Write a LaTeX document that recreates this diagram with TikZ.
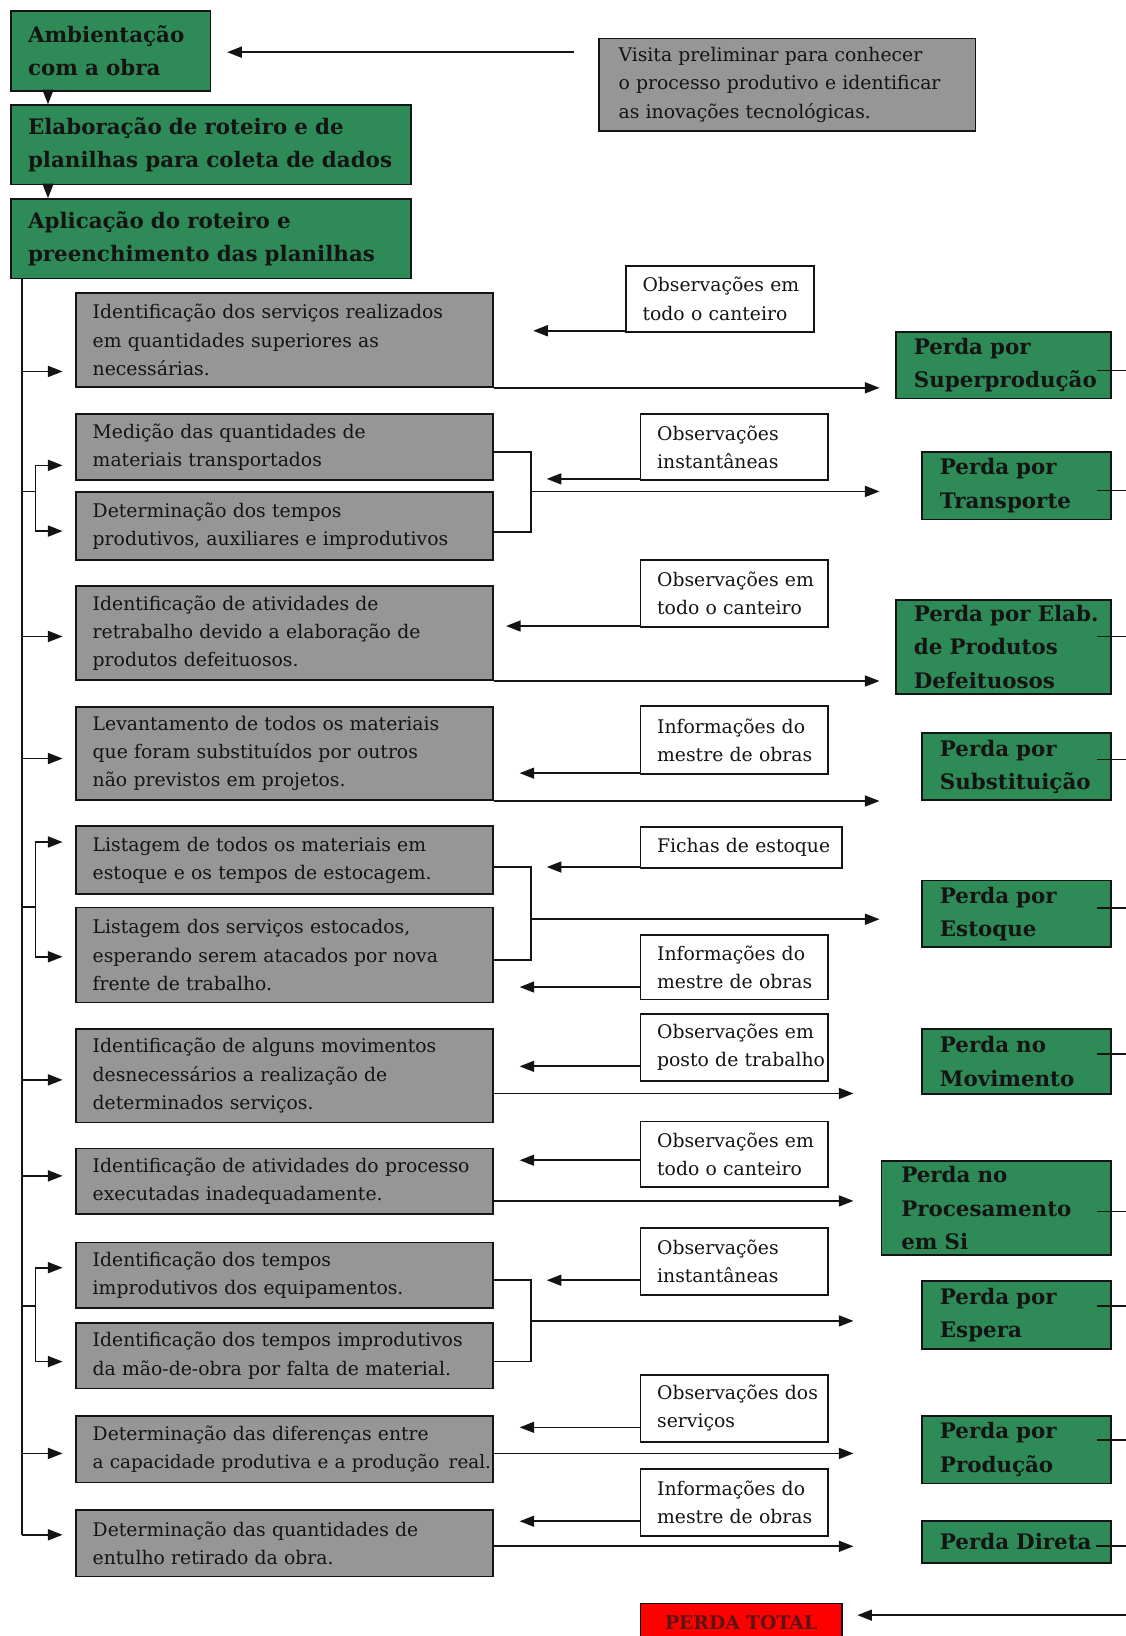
\documentclass[tikz,border=0pt]{standalone}
\usepackage{fontspec}
\setmainfont{DejaVu Serif}
\usetikzlibrary{arrows.meta}
\definecolor{boxgreen}{RGB}{46,139,87}
\definecolor{boxgray}{RGB}{150,150,150}
\definecolor{totalred}{RGB}{255,0,0}
\definecolor{totalink}{RGB}{90,20,20}
\definecolor{ink}{RGB}{20,20,20}
\begin{document}
\begin{tikzpicture}[x=1pt,y=-1pt,
  ln/.style={draw=ink,line width=1.6pt},
  arr/.style={ln,-{Triangle[length=14pt,width=10.5pt]}},
  base/.style={draw=ink,line width=1.7pt,anchor=north west,inner ysep=0pt,align=left},
  greenbox/.style={base,fill=boxgreen,text=ink,font=\bfseries\fontsize{20.5}{32}\selectfont,inner xsep=16pt},
  graybox/.style={base,fill=boxgray,text=ink,font=\fontsize{18}{27}\selectfont,inner xsep=16pt,text width=368pt},
  obsbox/.style={base,fill=white,text=ink,font=\fontsize{18}{27}\selectfont,inner xsep=16pt},
  totalbox/.style={base,fill=totalred,text=totalink,font=\bfseries\fontsize{18}{22}\selectfont,align=center}
]
\fill[white] (0,0) rectangle (1079,1568);
\useasboundingbox (0,0) rectangle (1079,1568);

% top column
\node[greenbox,text width=159pt,minimum height=76pt] (a1) at (10,10) {\mbox{Ambientação}\\\mbox{com a obra}};
\node[greenbox,text width=351pt,minimum height=76pt] (a2) at (10,100) {\mbox{Elaboração de roteiro e de}\\\mbox{planilhas para coleta de dados}};
\node[greenbox,text width=351pt,minimum height=76pt] (a3) at (10,190) {\mbox{Aplicação do roteiro e}\\\mbox{preenchimento das planilhas}};
\node[base,fill=boxgray,text=ink,font=\fontsize{18}{27}\selectfont,inner xsep=19pt,text width=323pt,minimum height=89pt] (vis) at (573,36)
  {\mbox{Visita preliminar para conhecer}\\\mbox{o processo produtivo e identificar}\\\mbox{as inovações tecnológicas.}};

% gray activity boxes
\node[graybox,minimum height=90pt] (g1) at (72,280) {\mbox{Identificação dos serviços realizados}\\\mbox{em quantidades superiores as}\\\mbox{necessárias.}};
\node[graybox,minimum height=63pt] (g2) at (72,396) {\mbox{Medição das quantidades de}\\\mbox{materiais transportados}};
\node[graybox,minimum height=65pt] (g3) at (72,471) {\mbox{Determinação dos tempos}\\\mbox{produtivos, auxiliares e improdutivos}};
\node[graybox,minimum height=90pt] (g4) at (72,561) {\mbox{Identificação de atividades de}\\\mbox{retrabalho devido a elaboração de}\\\mbox{produtos defeituosos.}};
\node[graybox,minimum height=89pt] (g5) at (72,677) {\mbox{Levantamento de todos os materiais}\\\mbox{que foram substituídos por outros}\\\mbox{não previstos em projetos.}};
\node[graybox,minimum height=65pt] (g6) at (72,791) {\mbox{Listagem de todos os materiais em}\\\mbox{estoque e os tempos de estocagem.}};
\node[graybox,minimum height=91pt] (g7) at (72,869) {\mbox{Listagem dos serviços estocados,}\\\mbox{esperando serem atacados por nova}\\\mbox{frente de trabalho.}};
\node[graybox,minimum height=90pt] (g8) at (72,985) {\mbox{Identificação de alguns movimentos}\\\mbox{desnecessários a realização de}\\\mbox{determinados serviços.}};
\node[graybox,minimum height=63pt] (g9) at (72,1100) {\mbox{Identificação de atividades do processo}\\\mbox{executadas inadequadamente.}};
\node[graybox,minimum height=63pt] (g10) at (72,1190) {\mbox{Identificação dos tempos}\\\mbox{improdutivos dos equipamentos.}};
\node[graybox,minimum height=63pt] (g11) at (72,1267) {\mbox{Identificação dos tempos improdutivos}\\\mbox{da mão-de-obra por falta de material.}};
\node[graybox,minimum height=64pt] (g12) at (72,1356) {\mbox{Determinação das diferenças entre}\\\mbox{\fontsize{17.6}{27}\selectfont a capacidade produtiva e a produção\hspace{3pt} real.}};
\node[graybox,minimum height=64pt] (g13) at (72,1446) {\mbox{Determinação das quantidades de}\\\mbox{entulho retirado da obra.}};

% observation boxes
\node[obsbox,text width=148pt,minimum height=63pt] (o1) at (599,254) {\mbox{Observações em}\\\mbox{todo o canteiro}};
\node[obsbox,text width=148pt,minimum height=63pt] (o2) at (613,396) {\mbox{Observações}\\\mbox{instantâneas}};
\node[obsbox,text width=148pt,minimum height=64pt] (o3) at (613,536) {\mbox{Observações em}\\\mbox{todo o canteiro}};
\node[obsbox,text width=148pt,minimum height=65pt] (o4) at (613,676) {\mbox{Informações do}\\\mbox{mestre de obras}};
\node[obsbox,text width=161pt,minimum height=39pt] (o5) at (613,792) {\mbox{Fichas de estoque}};
\node[obsbox,text width=148pt,minimum height=62pt] (o6) at (613,895) {\mbox{Informações do}\\\mbox{mestre de obras}};
\node[obsbox,text width=148pt,minimum height=64pt] (o7) at (613,971) {\mbox{Observações em}\\\mbox{posto de trabalho}};
\node[obsbox,text width=148pt,minimum height=63pt] (o8) at (613,1074) {\mbox{Observações em}\\\mbox{todo o canteiro}};
\node[obsbox,text width=148pt,minimum height=64pt] (o9) at (613,1176) {\mbox{Observações}\\\mbox{instantâneas}};
\node[obsbox,text width=148pt,minimum height=64pt] (o10) at (613,1317) {\mbox{Observações dos}\\\mbox{serviços}};
\node[obsbox,text width=148pt,minimum height=64pt] (o11) at (613,1407) {\mbox{Informações do}\\\mbox{mestre de obras}};

% loss boxes
\node[greenbox,inner xsep=17pt,text width=172pt,minimum height=64pt] (p1) at (858,317) {\mbox{Perda por}\\\mbox{Superprodução}};
\node[greenbox,inner xsep=17pt,text width=147pt,minimum height=65pt] (p2) at (883,432) {\mbox{Perda por}\\\mbox{Transporte}};
\node[greenbox,inner xsep=17pt,text width=172pt,minimum height=90pt] (p3) at (858,574) {\mbox{Perda por Elab.}\\\mbox{de Produtos}\\\mbox{Defeituosos}};
\node[greenbox,inner xsep=17pt,text width=147pt,minimum height=64pt] (p4) at (883,702) {\mbox{Perda por}\\\mbox{Substituição}};
\node[greenbox,inner xsep=17pt,text width=147pt,minimum height=64pt] (p5) at (883,843) {\mbox{Perda por}\\\mbox{Estoque}};
\node[greenbox,inner xsep=17pt,text width=147pt,minimum height=63pt] (p6) at (883,985) {\mbox{Perda no}\\\mbox{Movimento}};
\node[greenbox,inner xsep=19pt,text width=182pt,minimum height=90pt] (p7) at (844,1112) {\mbox{Perda no}\\\mbox{Procesamento}\\\mbox{em Si}};
\node[greenbox,inner xsep=17pt,text width=147pt,minimum height=65pt] (p8) at (883,1227) {\mbox{Perda por}\\\mbox{Espera}};
\node[greenbox,inner xsep=17pt,text width=147pt,minimum height=65pt] (p9) at (883,1356) {\mbox{Perda por}\\\mbox{Produção}};
\node[greenbox,inner xsep=17pt,text width=147pt,minimum height=40pt] (p10) at (883,1457) {\mbox{Perda Direta}};
\node[totalbox,text width=193pt,inner xsep=0pt,minimum height=36pt] (pt) at (613,1536) {PERDA TOTAL};

% helper coordinates
\coordinate (tx) at (46,0);
\coordinate (ml) at (21,0);
\coordinate (tipA) at (843,0);
\coordinate (tipB) at (818,0);

% top connectors
\draw[arr] (a1.south -| tx) -- (a2.north -| tx);
\draw[arr] (a2.south -| tx) -- (a3.north -| tx);
\coordinate (vs) at (550,50);
\draw[arr,shorten >=15pt] (vs) -- (vs -| a1.east);

% main vertical line and single branches
\coordinate (b1) at (21,356);
\coordinate (b4) at (21,610);
\coordinate (b5) at (21,727);
\coordinate (b8) at (21,1035);
\coordinate (b9) at (21,1127);
\coordinate (b12) at (21,1393);
\coordinate (b13) at (21,1471);
\draw[ln] (a3.south -| ml) -- (b13);
\draw[arr,shorten >=12pt] (b1) -- (b1 -| g1.west);
\draw[arr,shorten >=12pt] (b4) -- (b4 -| g4.west);
\draw[arr,shorten >=12pt] (b5) -- (b5 -| g5.west);
\draw[arr,shorten >=12pt] (b8) -- (b8 -| g8.west);
\draw[arr,shorten >=12pt] (b9) -- (b9 -| g9.west);
\draw[arr,shorten >=12pt] (b12) -- (b12 -| g12.west);
\draw[arr,shorten >=12pt] (b13) -- (b13 -| g13.west);

% left brackets
\coordinate (j1) at (21,471); \coordinate (k1) at (34,471);
\coordinate (y1a) at (0,446); \coordinate (y1b) at (0,509);
\draw[ln] (j1) -- (k1);
\draw[arr,shorten >=12pt] (k1) |- (y1a -| g2.west);
\draw[arr,shorten >=12pt] (k1) |- (y1b -| g3.west);
\coordinate (j2) at (21,869); \coordinate (k2) at (34,869);
\coordinate (y2a) at (0,807); \coordinate (y2b) at (0,917);
\draw[ln] (j2) -- (k2);
\draw[arr,shorten >=12pt] (k2) |- (y2a -| g6.west);
\draw[arr,shorten >=12pt] (k2) |- (y2b -| g7.west);
\coordinate (j3) at (21,1252); \coordinate (k3) at (34,1252);
\coordinate (y3a) at (0,1215); \coordinate (y3b) at (0,1305);
\draw[ln] (j3) -- (k3);
\draw[arr,shorten >=12pt] (k3) |- (y3a -| g10.west);
\draw[arr,shorten >=12pt] (k3) |- (y3b -| g11.west);

% right brackets
\coordinate (q1t) at (509,433); \coordinate (q1b) at (509,510); \coordinate (q1m) at (509,471);
\draw[ln] (q1t -| g2.east) -- (q1t) -- (q1b) -- (q1b -| g3.east);
\draw[arr] (q1m) -- (q1m -| tipA);
\coordinate (q2t) at (509,831); \coordinate (q2b) at (509,920); \coordinate (q2m) at (509,881);
\draw[ln] (q2t -| g6.east) -- (q2t) -- (q2b) -- (q2b -| g7.east);
\draw[arr] (q2m) -- (q2m -| tipA);
\coordinate (q3t) at (509,1227); \coordinate (q3b) at (509,1305); \coordinate (q3m) at (509,1266);
\draw[ln] (q3t -| g10.east) -- (q3t) -- (q3b) -- (q3b -| g11.east);
\draw[arr] (q3m) -- (q3m -| tipB);

% outputs of single boxes
\draw[arr] (g1.south east) -- (g1.south east -| tipA);
\draw[arr] (g4.south east) -- (g4.south east -| tipA);
\draw[arr] (g5.south east) -- (g5.south east -| tipA);
\coordinate (u8) at (0,1048); \coordinate (u9) at (0,1151);
\coordinate (u12) at (0,1393); \coordinate (u13) at (0,1482);
\draw[arr] (u8 -| g8.east) -- (u8 -| tipB);
\draw[arr] (u9 -| g9.east) -- (u9 -| tipB);
\draw[arr] (u12 -| g12.east) -- (u12 -| tipB);
\draw[arr] (u13 -| g13.east) -- (u13 -| tipB);

% observation arrows
\coordinate (v1) at (511,317);  \draw[arr] (v1 -| o1.west) -- (v1);
\coordinate (v2) at (524,459);  \draw[arr] (v2 -| o2.west) -- (v2);
\coordinate (v3) at (485,600);  \draw[arr] (v3 -| o3.west) -- (v3);
\coordinate (v4) at (498,741);  \draw[arr] (v4 -| o4.west) -- (v4);
\coordinate (v5) at (524,831);  \draw[arr] (v5 -| o5.west) -- (v5);
\coordinate (v6) at (498,946);  \draw[arr] (v6 -| o6.west) -- (v6);
\coordinate (v7) at (498,1022); \draw[arr] (v7 -| o7.west) -- (v7);
\coordinate (v8) at (498,1112); \draw[arr] (v8 -| o8.west) -- (v8);
\coordinate (v9) at (524,1227); \draw[arr] (v9 -| o9.west) -- (v9);
\coordinate (v10) at (498,1368); \draw[arr] (v10 -| o10.west) -- (v10);
\coordinate (v11) at (498,1458); \draw[arr] (v11 -| o11.west) -- (v11);

% lines leaving the loss boxes to the right edge
\coordinate (w1) at (1079,355);  \draw[ln] (w1 -| p1.east) ++(-14,0) -- (w1);
\coordinate (w2) at (1079,470);  \draw[ln] (w2 -| p2.east) ++(-14,0) -- (w2);
\coordinate (w3) at (1079,610);  \draw[ln] (w3 -| p3.east) ++(-14,0) -- (w3);
\coordinate (w4) at (1079,728);  \draw[ln] (w4 -| p4.east) ++(-14,0) -- (w4);
\coordinate (w5) at (1079,870);  \draw[ln] (w5 -| p5.east) ++(-14,0) -- (w5);
\coordinate (w6) at (1079,1010); \draw[ln] (w6 -| p6.east) ++(-14,0) -- (w6);
\coordinate (w7) at (1079,1161); \draw[ln] (w7 -| p7.east) ++(-14,0) -- (w7);
\coordinate (w8) at (1079,1252); \draw[ln] (w8 -| p8.east) ++(-14,0) -- (w8);
\coordinate (w9) at (1079,1380); \draw[ln] (w9 -| p9.east) ++(-14,0) -- (w9);
\coordinate (w10) at (1079,1482); \draw[ln] (w10 -| p10.east) ++(-15,0) -- (w10);
\coordinate (w11) at (1079,1548); \draw[arr,shorten >=14pt] (w11) -- (w11 -| pt.east);
\end{tikzpicture}
\end{document}
